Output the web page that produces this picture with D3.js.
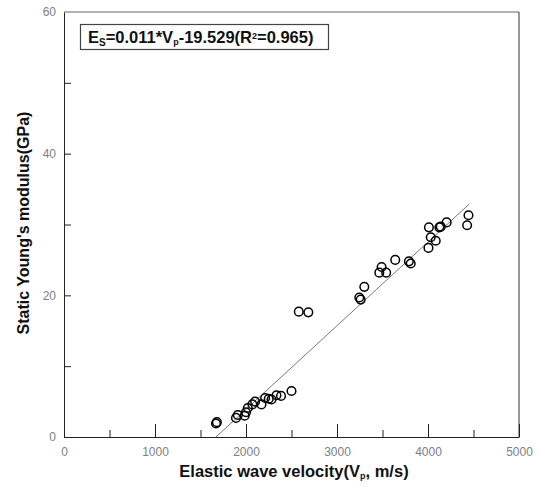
<!DOCTYPE html>
<html>
<head>
<meta charset="utf-8">
<script src="https://cdn.jsdelivr.net/npm/d3@7"></script>
<style>
body{margin:0;background:#fff;}
text{font-family:Arial,"Liberation Sans",sans-serif;}
</style>
</head>
<body>
<div id="chart"></div>
<script>
// elastic wave velocity (m/s) vs static Young's modulus (GPa)
var velocity = [1670,1680,1890,1910,1985,2000,2020,2070,2100,2170,2210,2250,2280,2335,2385,2500,
                2580,2685,3245,3260,3300,3465,3490,3540,3640,3790,3810,4005,4010,4030,4085,4125,4140,4205,4430,4445];
var modulus  = [1.9,2.1,2.7,3.1,3.0,3.5,4.1,4.6,5.0,4.6,5.5,5.4,5.3,5.9,5.8,6.5,
                17.7,17.6,19.7,19.4,21.2,23.2,24.0,23.2,25.0,24.8,24.5,26.7,29.6,28.2,27.7,29.6,29.7,30.3,29.9,31.3];
// regression line ends as drawn
var fitV = [1670,4455];
var fitE = [0,32.9];

var xMajor = [0,1000,2000,3000,4000,5000];
var xMinor = [500,1500,2500,3500,4500];
var yTicks = [0,10,20,30,40,50,60];
var yLabels = [0,20,40,60];

var w = 539, h = 487;
var svg = d3.select("#chart").append("svg").attr("width",w).attr("height",h);

var xScale = d3.scaleLinear().domain([0,5000]).range([64,519]);
var yScale = d3.scaleLinear().domain([0,60]).range([437,12]);

// frame top / right
svg.append("line").attr("x1",64).attr("x2",519).attr("y1",yScale(60)).attr("y2",yScale(60))
   .attr("stroke","#999").attr("stroke-width",1.5);
svg.append("line").attr("x1",519).attr("x2",519).attr("y1",yScale(60)).attr("y2",yScale(0))
   .attr("stroke","#333").attr("stroke-width",1);

var xAxis = d3.axisBottom(xScale).tickValues(xMajor).tickSize(-13).tickSizeOuter(0).tickPadding(10)
    .tickFormat(d3.format("d"));
var gx = svg.append("g").attr("transform","translate(0,437)").call(xAxis);
var xMin = d3.axisBottom(xScale).tickValues(xMinor).tickSize(-7).tickSizeOuter(0).tickFormat("");
var gx2 = svg.append("g").attr("transform","translate(0,437)").call(xMin);
gx2.select(".domain").remove();

var yAxis = d3.axisLeft(yScale).tickValues(yTicks).tickSize(-7).tickSizeOuter(0).tickPadding(8)
    .tickFormat(function(d){ return yLabels.indexOf(d)>=0 ? d : ""; });
var gy = svg.append("g").attr("transform","translate(64,0)").call(yAxis);

svg.selectAll(".domain").attr("stroke","#222");
svg.selectAll(".tick line").attr("stroke","#222");
svg.selectAll(".tick text").attr("fill","#808080").style("font-size","12px");
gy.selectAll(".tick").filter(function(d){ return d==60; }).select("line").remove();

// regression line
svg.append("line")
   .attr("x1",xScale(fitV[0])).attr("y1",yScale(fitE[0]))
   .attr("x2",xScale(fitV[1])).attr("y2",yScale(fitE[1]))
   .attr("stroke","#555").attr("stroke-width",0.8);

// points
svg.append("g").selectAll("circle")
   .data(velocity.map(function(v,i){ return {v:v,e:modulus[i]}; }))
   .enter().append("circle")
   .attr("cx",function(d){ return xScale(d.v); })
   .attr("cy",function(d){ return yScale(d.e); })
   .attr("r",4.3)
   .attr("fill","none").attr("stroke","#000").attr("stroke-width",1.5);

// equation box
svg.append("rect").attr("x",80.5).attr("y",24.5).attr("width",248).attr("height",25)
   .attr("fill","#fff").attr("stroke","#444").attr("stroke-width",1.2);
var eq = svg.append("text").attr("x",88).attr("y",43).style("font-size","16.5px").style("font-weight","bold").attr("fill","#111");
eq.append("tspan").text("E");
eq.append("tspan").attr("dy",3).style("font-size","10px").text("S");
eq.append("tspan").attr("dy",-3).text("=0.011*V");
eq.append("tspan").attr("dy",2).style("font-size","9px").text("p");
eq.append("tspan").attr("dy",-2).text("-19.529(R");
eq.append("tspan").attr("dy",-4).style("font-size","9px").text("2");
eq.append("tspan").attr("dy",4).text("=0.965)");

// axis titles
var xt = svg.append("text").attr("x",294).attr("y",477).attr("text-anchor","middle")
   .style("font-size","16.5px").style("font-weight","bold").attr("fill","#111");
xt.append("tspan").text("Elastic wave velocity(V");
xt.append("tspan").attr("dy",2).style("font-size","9px").text("p");
xt.append("tspan").attr("dy",-2).text(", m/s)");

svg.append("text").attr("transform","translate(29,223) rotate(-90)").attr("text-anchor","middle")
   .style("font-size","16px").style("font-weight","bold").attr("fill","#111")
   .text("Static Young's modulus(GPa)");
</script>
</body>
</html>
